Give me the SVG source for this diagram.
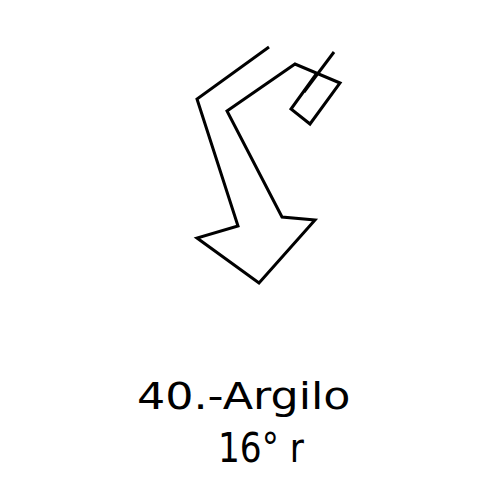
<svg xmlns="http://www.w3.org/2000/svg" width="500" height="500" viewBox="0 0 500 500">
<style>
.s{fill:none;stroke:#000;stroke-width:3;stroke-linejoin:miter;stroke-linecap:butt}
.t{font-family:"DejaVu Sans","Liberation Sans",sans-serif;fill:#000}
</style>
<rect width="500" height="500" fill="#fff"/>
<g id="arrow">
<polyline class="s" points="269,47 197,99 238,226 197,238 259,283 315,220 282,217 227,111 295,64 340,83 310,124 291,109 317,73"/>
<line class="s" x1="334" y1="52" x2="304" y2="92"/>
</g>
<g id="label">
<text class="t" x="0" y="409" font-size="37" transform="translate(137,0) scale(1.2,1)">40.-Argilo</text>
<text class="t" x="218" y="462" font-size="40" textLength="86" lengthAdjust="spacingAndGlyphs">16° r</text>
</g>
</svg>
